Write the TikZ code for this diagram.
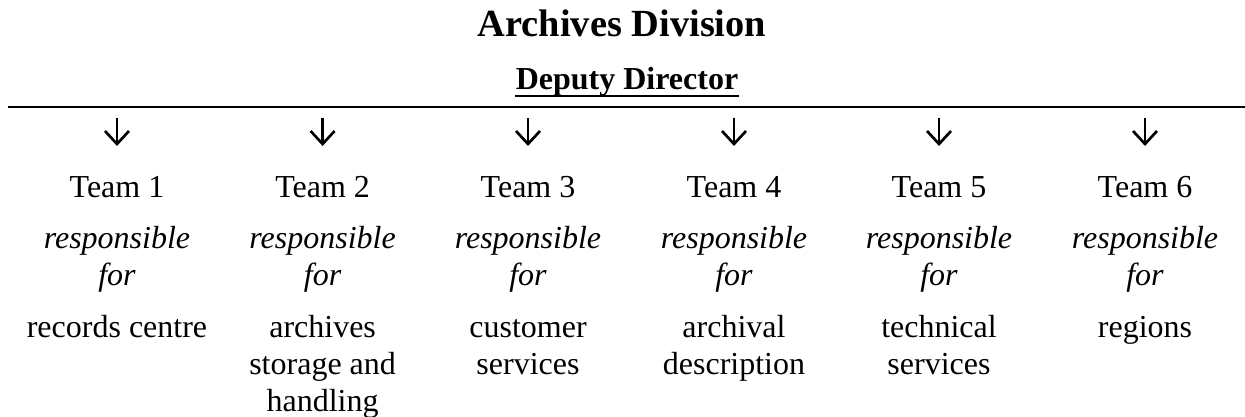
\documentclass[tikz,border=0pt]{standalone}
\usepackage{fontspec}
\setmainfont{Liberation Serif}
\begin{document}
\begin{tikzpicture}[x=0.375pt,y=-0.375pt,
  txt/.style={inner sep=0pt,outer sep=0pt,align=center,anchor=base,
    font=\fontsize{12}{13.875}\selectfont},
  titletxt/.style={inner sep=0pt,anchor=base,font=\fontsize{14.4}{16}\selectfont\bfseries},
  headtxt/.style={inner sep=0pt,anchor=base,font=\fontsize{12}{14}\selectfont\bfseries},
  arrowline/.style={line width=1pt,line join=miter},
  rule/.style={line width=1.1pt},
  uline/.style={line width=0.9pt}]
\useasboundingbox (0,0) rectangle (1245,417);
\node[titletxt] (title) at (622,37) {Archives Division};
\node[headtxt] (deputy) at (627,90) {Deputy Director};
\draw[uline] ([yshift=-2.3pt]deputy.base west) -- ([yshift=-2.3pt]deputy.base east);
\coordinate (ruleL) at (8,107);
\coordinate (ruleR) at (1245,107);
\draw[rule] (ruleL) -- (ruleR);
\foreach \i/\x/\dy/\desc in {
  1/117/337/{records centre},
  2/322.6/411/{archives\\storage and\\handling},
  3/528/374/{customer\\services},
  4/734/374/{archival\\description},
  5/939/374/{technical\\services},
  6/1145/337/{regions}}{
  \coordinate (atop\i) at (\x,118);
  \coordinate (abot\i) at (\x,144);
  \draw[arrowline] (atop\i) -- (abot\i);
  \draw[arrowline] ([shift={(-12,-13)}]abot\i) -- (abot\i) -- ([shift={(12,-13)}]abot\i);
  \node[txt] (team\i) at (\x,197) {Team \i};
  \node[txt] (resp\i) at (\x,285) {\itshape responsible\\\itshape for};
  \node[txt] (desc\i) at (\x,\dy) {\desc};
}
\end{tikzpicture}
\end{document}
